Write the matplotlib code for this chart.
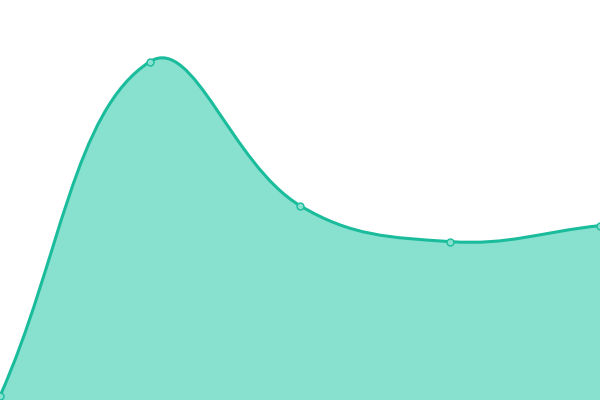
import matplotlib
matplotlib.use("Agg")
import matplotlib.pyplot as plt
import numpy as np
from matplotlib.path import Path
from matplotlib.patches import PathPatch

labels = ["A", "B", "C", "D", "E"]
values = [1, 84.6, 48.6, 39.6, 43.6]

line_color = "#1abc9c"
fill_color = "#88e0cf"

fig = plt.figure(figsize=(6, 4), dpi=100)
ax = fig.add_axes([0, 0, 1, 1])
ax.set_xlim(0, len(values) - 1)
ax.set_ylim(0, 100)
ax.axis("off")

xs = np.arange(len(values))
pts = ax.transData.transform(np.column_stack([xs, values]))

# chart.js style spline, tension 0.4, in pixel space
t = 0.4
cp_prev = []
cp_next = []
n = len(pts)
for i in range(n):
    p0 = pts[i - 1] if i > 0 else pts[i]
    p1 = pts[i]
    p2 = pts[i + 1] if i < n - 1 else pts[i]
    d01 = np.hypot(*(p1 - p0))
    d12 = np.hypot(*(p2 - p1))
    tot = d01 + d12
    s01 = d01 / tot if tot else 0
    s12 = d12 / tot if tot else 0
    cp_prev.append(p1 - t * s01 * (p2 - p0))
    cp_next.append(p1 + t * s12 * (p2 - p0))

verts = [pts[0]]
codes = [Path.MOVETO]
for i in range(n - 1):
    verts += [cp_next[i], cp_prev[i + 1], pts[i + 1]]
    codes += [Path.CURVE4] * 3

inv = ax.transData.inverted()
curve = inv.transform(np.array(verts))

fill_verts = np.vstack([curve, [[xs[-1], 0], [xs[0], 0], curve[0]]])
fill_codes = codes + [Path.LINETO, Path.LINETO, Path.CLOSEPOLY]
ax.add_patch(PathPatch(Path(fill_verts, fill_codes), facecolor=fill_color,
                       edgecolor="none", zorder=1))
ax.add_patch(PathPatch(Path(curve, codes), facecolor="none",
                       edgecolor=line_color, lw=2.2, zorder=2, clip_on=False))
ax.plot(xs, values, "o", ms=5, mfc=fill_color, mec=line_color, mew=1,
        zorder=3, clip_on=False)

fig.savefig("out.png", dpi=100)
